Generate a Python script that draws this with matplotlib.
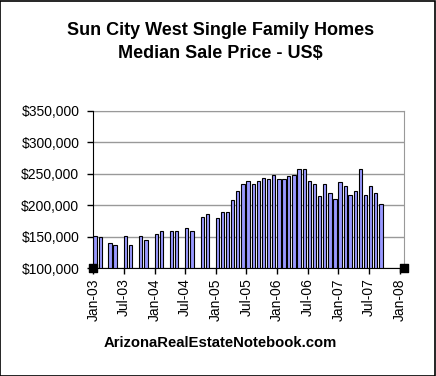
import datetime as dt
import matplotlib
matplotlib.use("Agg")
import matplotlib.pyplot as plt
import matplotlib.dates as mdates
from matplotlib.ticker import FuncFormatter, MultipleLocator
from matplotlib.patches import Rectangle

plt.rcParams['font.family'] = ['Liberation Sans', 'DejaVu Sans']

# Datos: mes (año, mes) y precio mediano
meses = [(2003, 1), (2003, 2), (2003, 4), (2003, 5), (2003, 7), (2003, 8),
         (2003, 10), (2003, 11),
         (2004, 1), (2004, 2), (2004, 4), (2004, 5), (2004, 7), (2004, 8),
         (2004, 10), (2004, 11),
         (2005, 1), (2005, 2), (2005, 3), (2005, 4), (2005, 5), (2005, 6),
         (2005, 7), (2005, 8), (2005, 9), (2005, 10), (2005, 11), (2005, 12),
         (2006, 1), (2006, 2), (2006, 3), (2006, 4), (2006, 5), (2006, 6),
         (2006, 7), (2006, 8), (2006, 9), (2006, 10), (2006, 11), (2006, 12),
         (2007, 1), (2007, 2), (2007, 3), (2007, 4), (2007, 5), (2007, 6),
         (2007, 7), (2007, 8), (2007, 9)]
precios = [151500, 150000, 140500, 137500, 151500, 137500, 151500, 145000,
           155000, 159500, 159500, 159500, 164000, 159500, 181000, 186000,
           180000, 189000, 189000, 208000, 222000, 234500, 239000, 233000,
           239000, 244000, 242000, 248500,
           242000, 242000, 247000, 248500, 258000, 258000, 239000, 233000,
           214000, 234500, 219000, 209500,
           237500, 230000, 217000, 222000, 258000, 217000, 230000, 219000,
           201500]

# serie auxiliar (marcadores en las esquinas)
aux_fechas = [dt.date(2003, 1, 1), dt.date(2008, 1, 28)]
aux_valores = [100000, 100000]

fechas = [dt.date(a, m, 1) for a, m in meses]

fig = plt.figure(figsize=(4.36, 3.76), dpi=100)
ax = fig.add_axes([0.214, 0.286, 0.713, 0.420])

ax.bar(fechas, precios, width=20, align='edge', color='#9999FF',
       edgecolor='black', linewidth=0.8, zorder=3)
ax.scatter(aux_fechas, aux_valores, marker='s', s=28, color='black',
           edgecolor='black', zorder=5, clip_on=False)

ax.set_xlim(dt.date(2003, 1, 1), dt.date(2008, 1, 28))
ax.set_ylim(100000, 350000)
ax.yaxis.set_major_locator(MultipleLocator(50000))
ax.yaxis.set_major_formatter(FuncFormatter(lambda v, p: '${:,.0f}'.format(v)))
ax.xaxis.set_major_locator(mdates.MonthLocator(bymonth=[1, 7]))
ax.xaxis.set_major_formatter(mdates.DateFormatter('%b-%y'))
plt.setp(ax.get_xticklabels(), rotation=90)

ax.grid(axis='y', color='#999999', linewidth=1, zorder=0)
ax.tick_params(axis='both', labelsize=10, length=4, width=1, color='black')
ax.tick_params(axis='x', pad=3)
ax.tick_params(axis='y', pad=6)
for lado in ['top', 'right']:
    ax.spines[lado].set_color('#999999')
for lado in ['left', 'bottom']:
    ax.spines[lado].set_color('black')
    ax.spines[lado].set_zorder(4)

fig.text(0.505, 0.918, 'Sun City West Single Family Homes', ha='center',
         va='center', fontsize=13, fontweight='bold')
fig.text(0.505, 0.857, 'Median Sale Price - US$', ha='center',
         va='center', fontsize=13, fontweight='bold')
fig.text(0.505, 0.088, 'ArizonaRealEstateNotebook.com', ha='center',
         va='center', fontsize=10.7, fontweight='bold')

fig.patches.append(Rectangle((0.001, 0.001), 0.997, 0.997, transform=fig.transFigure,
                             fill=False, edgecolor='black', linewidth=1.2))

fig.savefig('out.png', dpi=100)
